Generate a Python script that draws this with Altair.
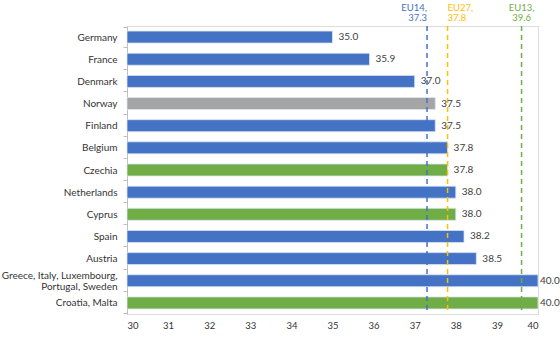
import altair as alt
import pandas as pd

categories = ["Germany", "France", "Denmark", "Norway", "Finland", "Belgium", "Czechia",
              "Netherlands", "Cyprus", "Spain", "Austria",
              "Greece, Italy, Luxembourg,\nPortugal, Sweden", "Croatia, Malta"]
values = [35.0, 35.9, 37.0, 37.5, 37.5, 37.8, 37.8, 38.0, 38.0, 38.2, 38.5, 40.0, 40.0]
groups = ["EU14", "EU14", "EU14", "Non-EU", "EU14", "EU14", "EU13",
          "EU14", "EU13", "EU14", "EU14", "EU14", "EU13"]

ref_names = ["EU14", "EU27", "EU13"]
ref_values = [37.3, 37.8, 39.6]
ref_colors = ["#4472C4", "#FFC000", "#70AD47"]

df = pd.DataFrame({"country": categories, "value": values, "group": groups})
ref = pd.DataFrame({"name": ref_names, "value": ref_values, "color": ref_colors})

W, H = 411, 288
FONT = "Lato"

xscale = alt.Scale(domain=[30, 40], nice=False, zero=False)
color_scale = alt.Scale(domain=["EU14", "EU13", "Non-EU"],
                        range=["#4472C4", "#70AD47", "#A5A5A5"])

base = alt.Chart(df)

bars = base.mark_bar(height=12, stroke="#dce4f2", strokeWidth=0.8).encode(
    y=alt.Y("country:N", sort=categories, title=None,
            axis=alt.Axis(labelExpr="isValid(datum.value) ? split(datum.value, '\\n') : ''",
                          domainColor="#bfbfbf",
                          tickColor="#bfbfbf", tickBand="extent", tickSize=4,
                          labelFontSize=10, labelColor="#333333", labelFont=FONT,
                          labelPadding=6, labelLimit=200, labelLineHeight=11,
                          labelOffset={"condition": {"test": "isValid(datum.value) && indexof(datum.value, '\\n') >= 0",
                                                     "value": -5.5},
                                       "value": 0})),
    x=alt.X("value:Q", scale=xscale, title=None,
            axis=alt.Axis(values=list(range(30, 41)), domain=False, ticks=False, grid=False,
                          labelFontSize=9.5, labelColor="#333333", labelFont=FONT,
                          labelPadding=6)),
    x2=alt.datum(30),
    color=alt.Color("group:N", scale=color_scale, legend=None),
)

def value_labels(test, dx):
    return base.transform_filter(test).mark_text(
        align="left", baseline="middle", dx=dx, fontSize=10,
        color="#404040", font=FONT).encode(
        y=alt.Y("country:N", sort=categories),
        x=alt.X("value:Q", scale=xscale),
        text=alt.Text("value:Q", format=".1f"),
    )

labels = value_labels(alt.datum.value < 40, 6) + value_labels(alt.datum.value >= 40, 2)

rules = alt.Chart(ref).mark_rule(strokeDash=[5, 4], strokeWidth=1.5).encode(
    x=alt.X("value:Q", scale=xscale),
    y=alt.value(0), y2=alt.value(H),
    color=alt.Color("color:N", scale=None, legend=None),
)

def ref_text(name, align):
    return alt.Chart(ref).transform_filter(alt.datum.name == name).transform_calculate(
        label="[datum.name + ',', format(datum.value, '.1f')]"
    ).mark_text(align=align, baseline="top", fontSize=9.5, font=FONT, lineHeight=10).encode(
        x=alt.X("value:Q", scale=xscale),
        y=alt.value(-23),
        text="label:N",
        color=alt.Color("color:N", scale=None, legend=None),
    )

ref_texts = ref_text("EU14", "right") + ref_text("EU27", "left") + ref_text("EU13", "center")

chart = alt.layer(bars, rules, labels, ref_texts).properties(
    width=W, height=H,
    autosize=alt.AutoSizeParams(type="none"),
    padding={"left": 127, "top": 26, "right": 22, "bottom": 24},
).configure_view(stroke=None).configure(background="white")

chart.save("out.html", embed_options={"renderer": "svg", "actions": False})
